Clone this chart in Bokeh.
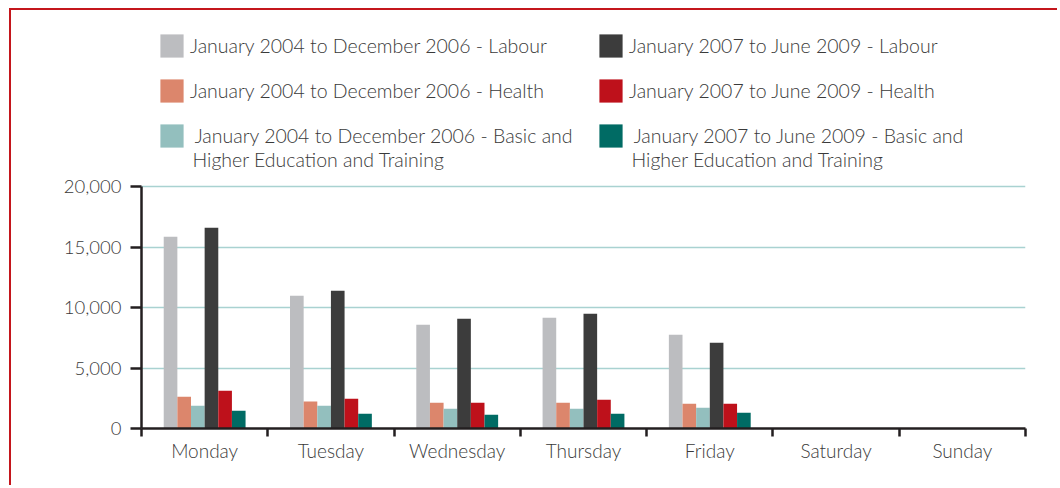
import numpy as np
from bokeh.plotting import figure
from bokeh.models import (ColumnDataSource, FixedTicker, NumeralTickFormatter, Legend,
                          LegendItem, Range1d, CustomJSTickFormatter, Label)
from bokeh.transform import dodge
from bokeh.embed import file_html
from bokeh.resources import INLINE

days = ["Monday", "Tuesday", "Wednesday", "Thursday", "Friday", "Saturday", "Sunday"]
labour_0406 = [15850, 10970, 8575, 9150, 7745, 0, 0]
health_0406 = [2620, 2230, 2125, 2125, 2040, 0, 0]
edu_0406 = [1880, 1880, 1630, 1630, 1710, 0, 0]
labour_0709 = [16590, 11385, 9070, 9485, 7085, 0, 0]
health_0709 = [3120, 2455, 2125, 2370, 2040, 0, 0]
edu_0709 = [1460, 1215, 1130, 1215, 1300, 0, 0]

series_keys = ["labour_0406", "health_0406", "edu_0406", "labour_0709", "health_0709", "edu_0709"]
series_labels = [
    "January 2004 to December 2006 - Labour",
    "January 2004 to December 2006 - Health",
    " January 2004 to December 2006 - Basic and",
    "January 2007 to June 2009 - Labour",
    "January 2007 to June 2009 - Health",
    " January 2007 to June 2009 - Basic and",
]
label_second_lines = {2: "Higher Education and Training", 5: "Higher Education and Training"}
colors = ["#bcbdc0", "#dc866c", "#93bfbe", "#3c3c3c", "#be111b", "#006b64"]
y_ticks = [0, 5000, 10000, 15000, 20000]
y_max = 20000

FONT = "Lato Light"
TEXT = "#3a3a3a"
AXIS = "#231f20"

# layout (canvas pixels)
W, H = 1048, 477
FRAME_L, FRAME_T, FRAME_R, FRAME_B = 130, 5, 1014, 418
Y20K = 176  # pixel row of the 20,000 gridline
y_end = y_max * (FRAME_B - FRAME_T) / (FRAME_B - Y20K)

# legend geometry
LG_MARGIN, LG_GLYPH, LG_STANDOFF, LG_SPACING, LG_LABEL_W = 16, 29, 4, 16, 390
LINE_H = 23.4

centers = np.arange(len(days)) + 0.5
source = ColumnDataSource(dict(
    x=centers, labour_0406=labour_0406, health_0406=health_0406, edu_0406=edu_0406,
    labour_0709=labour_0709, health_0709=health_0709, edu_0709=edu_0709,
))

p = figure(width=W, height=H, output_backend="svg", toolbar_location=None,
           x_range=Range1d(0, len(days)), y_range=Range1d(0, y_end),
           min_border_left=FRAME_L, min_border_right=W - FRAME_R,
           min_border_top=FRAME_T, min_border_bottom=H - FRAME_B)
p.styles = {"margin-left": "9px", "margin-top": "8px",
            "border-left": "2px solid #c4161c", "border-top": "2px solid #c4161c"}
p.outline_line_color = None
p.background_fill_color = "white"
p.border_fill_color = "white"

bw = 0.108
renderers = []
for i, key in enumerate(series_keys):
    off = (i - 2.5) * bw
    r = p.vbar(x=dodge("x", off), top=key, width=bw, source=source,
               fill_color=colors[i], line_color=None)
    renderers.append(r)

# grid
p.xgrid.grid_line_color = None
p.ygrid.grid_line_color = "#a9d2d1"
p.ygrid.grid_line_width = 1.5
p.ygrid.ticker = FixedTicker(ticks=y_ticks)

# x axis
xa = p.xaxis[0]
xa.ticker = FixedTicker(ticks=list(centers), minor_ticks=list(range(len(days) + 1)))
xa.formatter = CustomJSTickFormatter(args=dict(days=days),
                                     code="return days[Math.floor(tick)] || '';")
xa.major_tick_in = 0
xa.major_tick_out = 0
xa.major_tick_line_color = None
xa.minor_tick_in = 0
xa.minor_tick_out = 8
xa.minor_tick_line_color = AXIS
xa.minor_tick_line_width = 2.5
xa.axis_line_color = AXIS
xa.axis_line_width = 2.5
xa.major_label_standoff = 2
xa.major_label_text_font = FONT
xa.major_label_text_font_size = "19px"
xa.major_label_text_color = TEXT

# y axis
ya = p.yaxis[0]
ya.bounds = (0, y_max)
ya.ticker = FixedTicker(ticks=y_ticks)
ya.formatter = NumeralTickFormatter(format="0,0")
ya.major_tick_in = 0
ya.major_tick_out = 11
ya.major_tick_line_color = AXIS
ya.major_tick_line_width = 2.5
ya.minor_tick_line_color = None
ya.axis_line_color = AXIS
ya.axis_line_width = 2.5
ya.major_label_standoff = 9
ya.major_label_text_font = FONT
ya.major_label_text_font_size = "18.5px"
ya.major_label_text_color = TEXT

items = [LegendItem(label=series_labels[i], renderers=[renderers[i]]) for i in range(6)]
legend = Legend(items=items, location="top_left", orientation="vertical", nrows=3,
                padding=0, margin=LG_MARGIN, spacing=LG_SPACING, border_line_color=None,
                background_fill_alpha=0,
                glyph_width=LG_GLYPH, glyph_height=LG_GLYPH, label_standoff=LG_STANDOFF,
                label_height=23, label_width=LG_LABEL_W,
                label_text_font=FONT, label_text_font_size="19.5px",
                label_text_color=TEXT)
p.add_layout(legend, "center")

# second lines of the two-line legend labels (placed under their legend rows)
frame_h = FRAME_B - FRAME_T
col_pitch = LG_GLYPH + LG_STANDOFF + LG_LABEL_W + LG_SPACING
row_pitch = LG_GLYPH + LG_SPACING
for idx, txt in label_second_lines.items():
    col, row = divmod(idx, 3)
    sx = LG_MARGIN + col * col_pitch + LG_GLYPH + LG_STANDOFF + 2
    row_center_from_top = LG_MARGIN + row * row_pitch + LG_GLYPH / 2
    sy = frame_h - (row_center_from_top + LINE_H)
    p.add_layout(Label(x=sx, y=sy, x_units="screen", y_units="screen", text=txt,
                       text_font=FONT, text_font_size="19.5px", text_color=TEXT,
                       text_baseline="middle", text_align="left"))

open("out.html", "w").write(file_html(p, INLINE))
